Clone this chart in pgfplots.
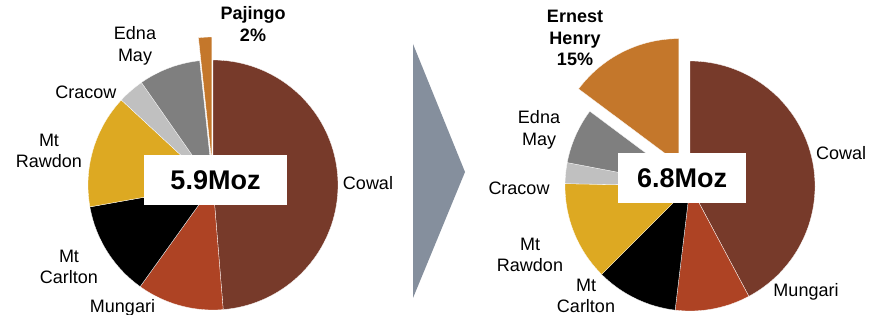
\documentclass[border=0pt]{standalone}
\usepackage{pgfplots}
\pgfplotsset{compat=1.18}
\usepackage{fontspec}
\setmainfont{Liberation Sans}
\definecolor{cowal}{HTML}{773A2A}
\definecolor{mungari}{HTML}{AE4324}
\definecolor{carlton}{HTML}{000000}
\definecolor{rawdon}{HTML}{DDA922}
\definecolor{cracow}{HTML}{C0C0C0}
\definecolor{edna}{HTML}{7F7F7F}
\definecolor{orangeslice}{HTML}{C4772B}
\definecolor{arrowc}{HTML}{858F9D}

% slice: cx, cy, r, percent, colour, explode offset
\newcommand\pieinit[1]{\xdef\curang{#1}}
\newcommand\slice[6]{%
  \pgfmathsetmacro\angA{\curang}%
  \pgfmathsetmacro\angB{\curang-3.6*#4}%
  \pgfmathsetmacro\midang{(\angA+\angB)/2}%
  \pgfmathsetmacro\ox{#1+#6*cos(\midang)}%
  \pgfmathsetmacro\oy{#2+#6*sin(\midang)}%
  \xdef\curang{\angB}%
  \edef\temp{\noexpand\addplot[fill=#5, draw=white, line width=0.3pt, domain=\angB:\angA, samples=80]
    ({\ox+#3*cos(x)},{\oy+#3*sin(x)}) -- (axis cs:\ox,\oy) -- cycle;}%
  \temp
}

\begin{document}
\begin{tikzpicture}
\useasboundingbox (0,0) rectangle (881bp,315bp);
\begin{axis}[
  at={(0,0)}, anchor=south west,
  width=881bp, height=315bp, scale only axis,
  xmin=0, xmax=881, ymin=0, ymax=315,
  hide axis, clip=false,
]
% ---------- left pie (5.9Moz), percentages ----------
\pieinit{90}
\slice{213}{130}{125}{48.7}{cowal}{0}
\slice{213}{130}{125}{11.2}{mungari}{0}
\slice{213}{130}{125}{12.3}{carlton}{0}
\slice{213}{130}{125}{14.7}{rawdon}{0}
\slice{213}{130}{125}{3.4}{cracow}{0}
\slice{213}{130}{125}{8.0}{edna}{0}
\slice{213}{130}{125}{1.7}{orangeslice}{23}
% ---------- right pie (6.8Moz), percentages ----------
\pieinit{90}
\slice{690}{129}{125}{42.2}{cowal}{0}
\slice{690}{129}{125}{9.7}{mungari}{0}
\slice{690}{129}{125}{10.6}{carlton}{0}
\slice{690}{129}{125}{12.8}{rawdon}{0}
\slice{690}{129}{125}{2.7}{cracow}{0}
\slice{690}{129}{125}{7.2}{edna}{0}
\slice{690}{129}{125}{14.8}{orangeslice}{25}
% ---------- arrow ----------
\addplot[fill=arrowc, draw=none] coordinates {(413,271) (465,143) (413,17)} -- cycle;
% ---------- centre boxes ----------
\addplot[fill=white, draw=none] coordinates {(144,110) (287,110) (287,160) (144,160)} -- cycle;
\addplot[fill=white, draw=none] coordinates {(618,112) (746,112) (746,162) (618,162)} -- cycle;
\node[font=\fontsize{27bp}{30bp}\selectfont\bfseries] at (axis cs:215.5,135) {5.9Moz};
\node[font=\fontsize{27bp}{30bp}\selectfont\bfseries] at (axis cs:682,137) {6.8Moz};
% ---------- labels ----------
\tikzset{lab/.style={font=\fontsize{18bp}{21.5bp}\selectfont, align=center, inner sep=0pt}}
\node[lab, font=\fontsize{18bp}{21.5bp}\selectfont\bfseries] at (axis cs:253,291) {Pajingo\\2\%};
\node[lab] at (axis cs:135,269) {Edna\\May};
\node[lab] at (axis cs:86,223) {Cracow};
\node[lab] at (axis cs:49,164) {Mt\\Rawdon};
\node[lab] at (axis cs:368,132) {Cowal};
\node[lab] at (axis cs:69,48) {Mt\\Carlton};
\node[lab] at (axis cs:122.5,7) {Mungari};
\node[lab, font=\fontsize{18bp}{21.5bp}\selectfont\bfseries] at (axis cs:575,277) {Ernest\\Henry\\15\%};
\node[lab] at (axis cs:539,185) {Edna\\May};
\node[lab] at (axis cs:519,127) {Cracow};
\node[lab] at (axis cs:530,60) {Mt\\Rawdon};
\node[lab] at (axis cs:586,19) {Mt\\Carlton};
\node[lab] at (axis cs:841,162) {Cowal};
\node[lab] at (axis cs:806,23) {Mungari};
\end{axis}
\end{tikzpicture}
\end{document}
